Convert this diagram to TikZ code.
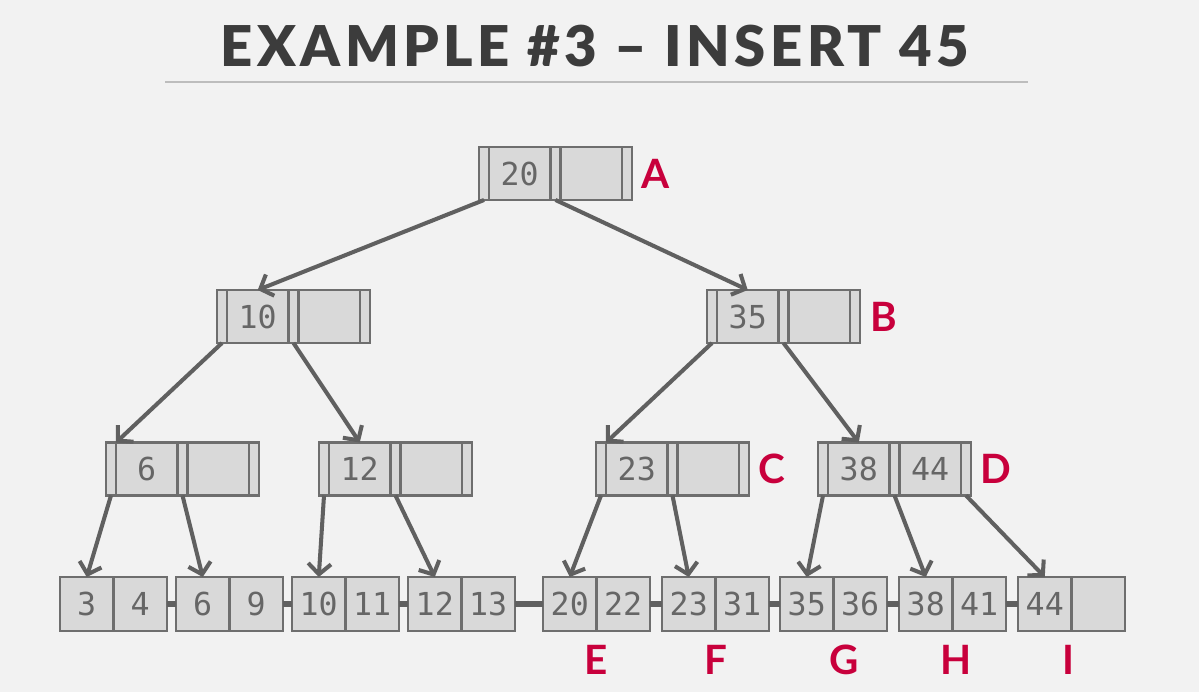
\documentclass[tikz,border=0pt]{standalone}
\usepackage{fontspec}
\usepackage{xcolor}
\usepackage{tikz}
\usetikzlibrary{positioning,arrows.meta}

\setmainfont{Lato}
\newfontfamily\keyfont{DejaVu Sans Mono}
\newfontfamily\titlefont[LetterSpace=8, BoldFont={Lato Black}]{Lato}

\definecolor{bgcol}{HTML}{F2F2F2}
\definecolor{boxfill}{HTML}{D9D9D9}
\definecolor{boxline}{HTML}{6E6E6E}
\definecolor{keytext}{HTML}{666666}
\definecolor{edgegray}{HTML}{606060}
\definecolor{tagred}{HTML}{C8003C}
\definecolor{titlegray}{HTML}{3C3C3C}
\definecolor{rulegray}{HTML}{BDBDBD}

\tikzset{
  ptr/.style={draw=boxline, fill=boxfill, line width=1.2pt, minimum width=0.2cm,
    minimum height=1.06cm, inner sep=0pt, outer sep=0pt},
  keybox/.style={ptr, minimum width=1.23cm, text=keytext,
    font=\keyfont\fontsize{18}{18}\selectfont},
  leafcell/.style={keybox, minimum width=1.07cm, minimum height=1.08cm},
  ptrarrow/.style={draw=edgegray, line width=2.3pt,
    -{Straight Barb[length=6pt,width=13pt]}},
  leaflink/.style={draw=edgegray, line width=3pt},
  tagtext/.style={text=tagred, inner sep=0pt,
    font=\bfseries\fontsize{23}{23}\selectfont},
}

\begin{document}
\begin{tikzpicture}[x=0.02cm, y=-0.02cm]
    % background and title
    \fill[bgcol] (0,0) rectangle (1199,692);
    \node[text=titlegray, font=\titlefont\bfseries\fontsize{32}{32}\selectfont] (title) at (595,46) {EXAMPLE \#3 – INSERT 45};
    \draw[rulegray, line width=1.7pt] (165,82) -- (1028,82);

    % inner nodes: pointer | key | pointer | key | pointer
    \foreach \n/\x/\y/\a/\b in {root/479/173.5/20/{}, n10/217/316.5/10/{}, n35/707/316.5/35/{},
        n6/106/469/6/{}, n12/319/469/12/{}, n23/596/469/23/{}, n38/818/469/38/44} {
        \node[ptr, anchor=west] (\n-p0) at (\x,\y) {};
        \node[keybox, right=0pt of \n-p0] (\n-k1) {\a};
        \node[ptr, right=0pt of \n-k1] (\n-p1) {};
        \node[keybox, right=0pt of \n-p1] (\n-k2) {\b};
        \node[ptr, right=0pt of \n-k2] (\n-p2) {};
    }

    % leaf nodes
    \foreach \n/\x/\a/\b in {leaf1/60/3/4, leaf2/176/6/9, leaf3/292/10/11, leaf4/408/12/13,
        leaf5/543/20/22, leaf6/662/23/31, leaf7/780/35/36, leaf8/899/38/41, leaf9/1018/44/{}} {
        \node[leafcell, anchor=west] (\n-k1) at (\x,604) {\a};
        \node[leafcell, right=0pt of \n-k1] (\n-k2) {\b};
    }

    % sibling links
    \foreach \u/\v in {leaf1/leaf2, leaf2/leaf3, leaf3/leaf4, leaf4/leaf5,
        leaf5/leaf6, leaf6/leaf7, leaf7/leaf8, leaf8/leaf9} {
        \draw[leaflink] (\u-k2.east) -- (\v-k1.west);
    }

    % child pointers
    \draw[ptrarrow] (root-p0.south) -- (n10-k1.north);
    \draw[ptrarrow] (root-p1.south) -- (n35-k1.north);
    \draw[ptrarrow] (n10-p0.south) -- (n6-k1.north west);
    \draw[ptrarrow] (n10-p1.south) -- (n12-k1.north);
    \draw[ptrarrow] (n35-p0.south) -- (n23-k1.north west);
    \draw[ptrarrow] (n35-p1.south) -- (n38-k1.north);
    \draw[ptrarrow] (n6-p0.south) -- (leaf1-k1.north);
    \draw[ptrarrow] (n6-p1.south) -- (leaf2-k1.north);
    \draw[ptrarrow] (n12-p0.south) -- (leaf3-k1.north);
    \draw[ptrarrow] (n12-p1.south) -- (leaf4-k1.north);
    \draw[ptrarrow] (n23-p0.south) -- (leaf5-k1.north);
    \draw[ptrarrow] (n23-p1.south) -- (leaf6-k1.north);
    \draw[ptrarrow] (n38-p0.south) -- (leaf7-k1.north);
    \draw[ptrarrow] (n38-p1.south) -- (leaf8-k1.north);
    \draw[ptrarrow] (n38-p2.south) -- (leaf9-k1.north);

    % labels
    \node[tagtext, right=5pt of root-p2] (labA) {A};
    \node[tagtext, right=6pt of n35-p2] (labB) {B};
    \node[tagtext, right=5pt of n23-p2] (labC) {C};
    \node[tagtext, right=5pt of n38-p2] (labD) {D};
    \node[tagtext, below=8pt of leaf5-k1.south east] (labE) {E};
    \node[tagtext, below=8pt of leaf6-k1.south east] (labF) {F};
    \node[tagtext, below=8pt of leaf7-k1.south east, xshift=6pt] (labG) {G};
    \node[tagtext, below=8pt of leaf8-k1.south east, xshift=2pt] (labH) {H};
    \node[tagtext, below=8pt of leaf9-k1.south east, xshift=-2pt] (labI) {I};
\end{tikzpicture}
\end{document}
